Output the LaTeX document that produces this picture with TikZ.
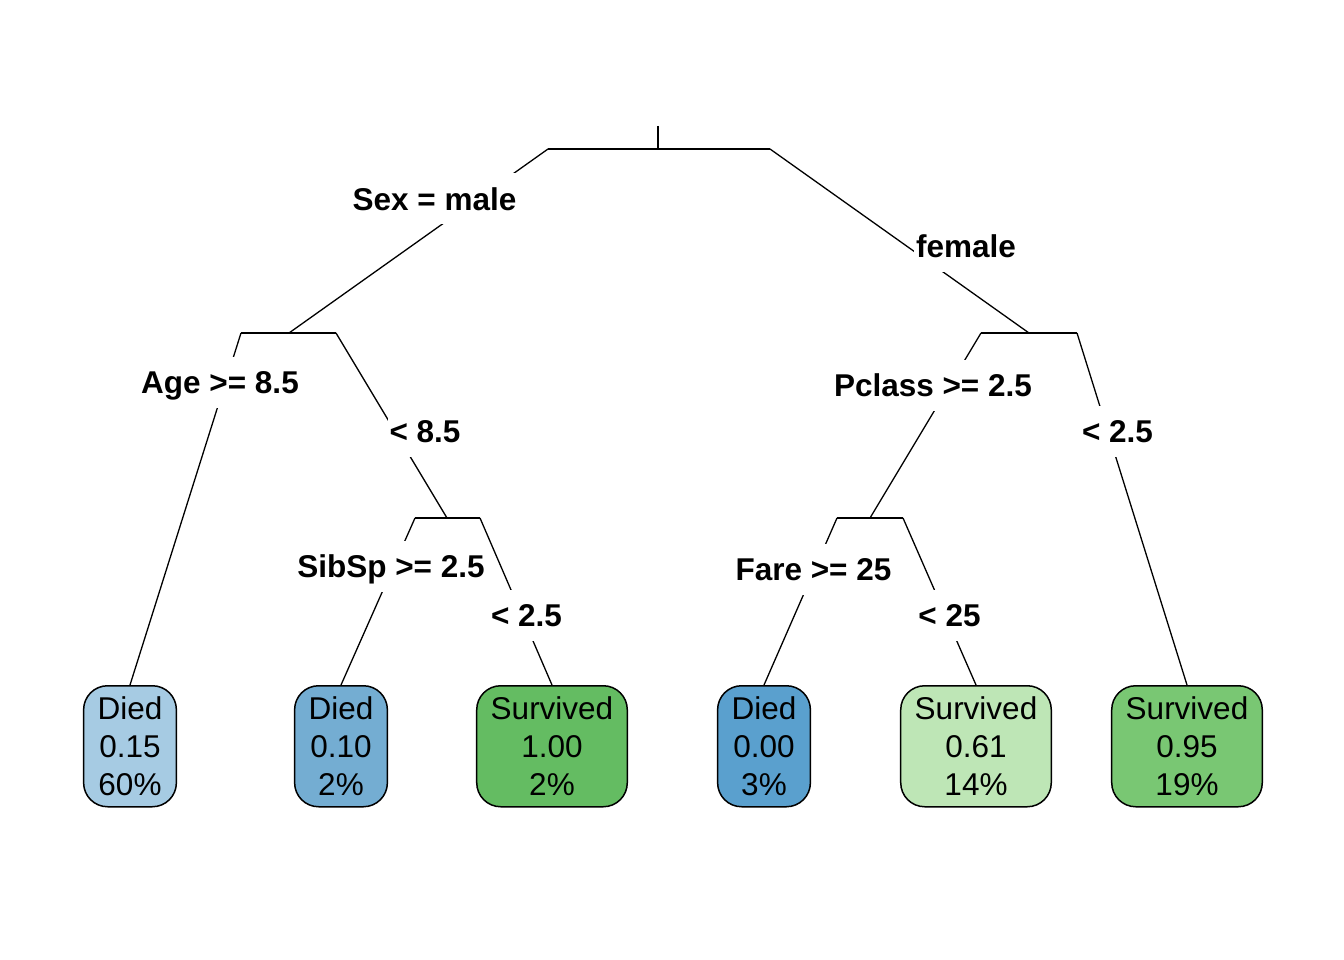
\documentclass[tikz,border=0pt]{standalone}
\usepackage{fontspec}
\setmainfont{Liberation Sans}
\usetikzlibrary{calc}

\definecolor{diedA}{RGB}{166,203,227}
\definecolor{diedB}{RGB}{116,173,210}
\definecolor{diedC}{RGB}{90,160,206}
\definecolor{survA}{RGB}{100,188,98}
\definecolor{survB}{RGB}{190,230,182}
\definecolor{survC}{RGB}{121,199,115}

\begin{document}
\begin{tikzpicture}[x=1pt,y=-1pt,
    branch/.style={line width=1.3pt},
    splitlab/.style={fill=white,font=\fontsize{31.5}{38}\selectfont\bfseries,
        text height=23pt,text depth=0pt,inner ysep=14pt,inner xsep=2pt},
    leaf/.style={draw,line width=1.5pt,rounded corners=24pt,align=center,
        anchor=north,minimum height=121pt,inner xsep=14pt,
        font=\fontsize{31.5}{38}\selectfont}]
    \useasboundingbox (0,0) rectangle (1344,960);
    %%split_points
    \coordinate (top) at (658,126);
    \coordinate (root) at (658,149);
    \coordinate (rootL) at (548,149);
    \coordinate (rootR) at (770,149);
    \coordinate (age) at (289,333);
    \coordinate (ageL) at (241,333);
    \coordinate (ageR) at (336,333);
    \coordinate (pcl) at (1029,333);
    \coordinate (pclL) at (981,333);
    \coordinate (pclR) at (1077,333);
    \coordinate (sib) at (447,518);
    \coordinate (sibL) at (415,518);
    \coordinate (sibR) at (480,518);
    \coordinate (fare) at (870,518);
    \coordinate (fareL) at (837,518);
    \coordinate (fareR) at (903,518);
    %%leaves
    \node[leaf,fill=diedA] (l1) at (130,685) {Died\\0.15\\60\%};
    \node[leaf,fill=diedB] (l2) at (341,685) {Died\\0.10\\2\%};
    \node[leaf,fill=survA] (l3) at (552,685) {Survived\\1.00\\2\%};
    \node[leaf,fill=diedC] (l4) at (764,685) {Died\\0.00\\3\%};
    \node[leaf,fill=survB] (l5) at (976,685) {Survived\\0.61\\14\%};
    \node[leaf,fill=survC] (l6) at (1187,685) {Survived\\0.95\\19\%};
    %%bars
    \draw[branch] (top) -- (root);
    \draw[branch] (rootL) -- (rootR);
    \draw[branch] (ageL) -- (ageR);
    \draw[branch] (pclL) -- (pclR);
    \draw[branch] (sibL) -- (sibR);
    \draw[branch] (fareL) -- (fareR);
    %%branches
    \draw[branch] (rootL) -- (age);
    \draw[branch] (rootR) -- (pcl);
    \draw[branch] (ageL) -- (l1.north);
    \draw[branch] (ageR) -- (sib);
    \draw[branch] (sibL) -- (l2.north);
    \draw[branch] (sibR) -- (l3.north);
    \draw[branch] (pclL) -- (fare);
    \draw[branch] (pclR) -- (l6.north);
    \draw[branch] (fareL) -- (l4.north);
    \draw[branch] (fareR) -- (l5.north);
    %%split_labels
    \node[splitlab] (sexM) at (434.5,199) {Sex = male};
    \node[splitlab] (sexF) at (966,246) {female};
    \node[splitlab] (ageG) at (220,382) {Age >= 8.5};
    \node[splitlab] (ageS) at (425,431) {< 8.5};
    \node[splitlab] (sibG) at (391,566) {SibSp >= 2.5};
    \node[splitlab] (sibS) at (526.5,615) {< 2.5};
    \node[splitlab] (pclG) at (933,385) {Pclass >= 2.5};
    \node[splitlab] (pclS) at (1117.5,431) {< 2.5};
    \node[splitlab] (fareG) at (813.5,569) {Fare >= 25};
    \node[splitlab] (fareS) at (949.5,615) {< 25};
\end{tikzpicture}
\end{document}
